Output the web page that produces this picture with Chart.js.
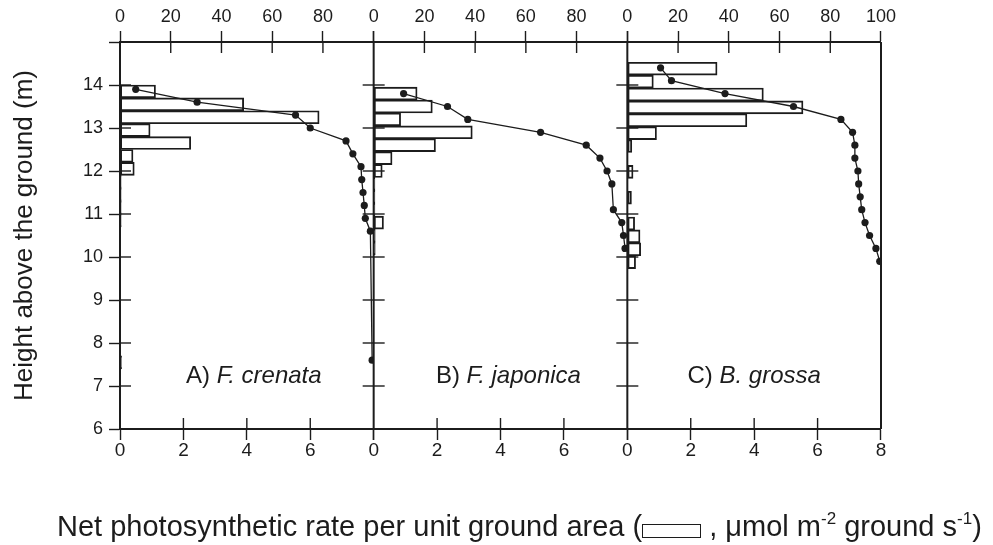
<!DOCTYPE html>
<html>
<head>
<meta charset="utf-8">
<script src="https://cdn.jsdelivr.net/npm/chart.js@4.4.1/dist/chart.umd.min.js"></script>
<style>
  html, body { margin: 0; padding: 0; background: #fff; }
  #wrap { position: relative; width: 993px; height: 545px; }
  #xtitle {
    position: absolute; left: 57px; top: 512px;
    font: 29px/29px "Liberation Sans", Arial, sans-serif;
    color: #1c1c1c; white-space: nowrap;
  }
  #xtitle sup { font-size: 17px; line-height: 0; vertical-align: 12px; }
  .swatch {
    display: inline-block; width: 57px; height: 12px;
    border: 1.5px solid #1c1c1c; vertical-align: -2px;
  }
</style>
</head>
<body>
<div id="wrap">
  <canvas id="chart" width="993" height="545"></canvas>
  <div id="xtitle">Net photosynthetic rate per unit ground area (<span class="swatch"></span> , μmol m<sup>-2</sup> ground s<sup>-1</sup>)</div>
</div>
<script>
const INK = "#1c1c1c";

// panel names
const panelPrefix = ["A) ", "B) ", "C) "];
const panelSpecies = ["F. crenata", "F. japonica", "B. grossa"];

// leaf layers (centre height, m) and net photosynthetic rate per layer
const layerHeightsA = [13.85, 13.55, 13.25, 12.95, 12.65, 12.35, 12.05, 11.75, 11.45, 11.15, 10.85, 7.55];
const rateA = [1.12, 3.9, 6.28, 0.95, 2.23, 0.41, 0.45, 0.04, 0.04, 0.04, 0.04, 0.05];
const layerHeightsB = [13.8, 13.5, 13.2, 12.9, 12.6, 12.3, 12.0, 11.7, 11.4, 11.1, 10.8, 10.5, 10.2];
const rateB = [1.37, 1.85, 0.85, 3.11, 1.95, 0.58, 0.27, 0.04, 0.04, 0.04, 0.31, 0.05, 0.05];
const layerHeightsC = [14.38, 14.08, 13.78, 13.48, 13.18, 12.88, 12.58, 11.98, 11.38, 10.78, 10.48, 10.18, 9.88];
const rateC = [2.83, 0.82, 4.29, 5.54, 3.77, 0.92, 0.14, 0.18, 0.13, 0.23, 0.4, 0.42, 0.26];

// light profile (top axis, %)
const lightHeightsA = [13.9, 13.6, 13.3, 13.0, 12.7, 12.4, 12.1, 11.8, 11.5, 11.2, 10.9, 10.6, 7.6];
const lightA = [6.2, 30.4, 69.2, 75.0, 89.1, 91.8, 95.0, 95.3, 95.8, 96.3, 96.7, 98.7, 99.4];
const lightHeightsB = [13.8, 13.5, 13.2, 12.9, 12.6, 12.3, 12.0, 11.7, 11.1, 10.8, 10.5, 10.2];
const lightB = [11.8, 29.1, 37.1, 65.8, 83.8, 89.2, 92.0, 93.9, 94.5, 97.8, 98.5, 99.1];
const lightHeightsC = [14.4, 14.1, 13.8, 13.5, 13.2, 12.9, 12.6, 12.3, 12.0, 11.7, 11.4, 11.1, 10.8, 10.5, 10.2, 9.9];
const lightC = [13.1, 17.4, 38.5, 65.5, 84.2, 88.8, 89.7, 89.7, 90.9, 91.2, 91.8, 92.4, 93.7, 95.5, 98.0, 99.5];

// axis ranges / ticks
const heightRange = [6, 15];
const rateRange = [0, 8];
const lightRange = [0, 100];
const rateStep = 2;
const lightStep = 20;

// where the panel captions sit (rate axis value, height)
const captionAt = [[4.22, 7.22], [4.25, 7.22], [4.0, 7.22]];

const ids = ["A", "B", "C"];
const layerHeights = [layerHeightsA, layerHeightsB, layerHeightsC];
const rates = [rateA, rateB, rateC];
const lightHeights = [lightHeightsA, lightHeightsB, lightHeightsC];
const lights = [lightA, lightB, lightC];

const numFont = { family: "'Liberation Sans', Arial, sans-serif", size: 18 };
const narrowFont = { family: "'Liberation Sans Narrow', 'Arial Narrow', 'Liberation Sans', sans-serif", size: 19, lineHeight: 1 };

const datasets = [];
ids.forEach((id, p) => {
  datasets.push({
    type: "bar",
    indexAxis: "y",
    grouped: false,
    xAxisID: "x" + id,
    yAxisID: "y" + id,
    data: layerHeights[p].map((h, i) => ({ x: rates[p][i], y: h })),
    backgroundColor: "rgba(0,0,0,0)",
    borderColor: INK,
    borderWidth: 1.2,
    borderSkipped: false,
    barPercentage: 1,
    categoryPercentage: 1,
  });
  datasets.push({
    type: "line",
    xAxisID: "t" + id,
    yAxisID: "y" + id,
    data: lightHeights[p].map((h, i) => ({ x: lights[p][i], y: h })),
    borderColor: INK,
    borderWidth: 1.3,
    pointRadius: 3.6,
    pointBackgroundColor: INK,
    pointBorderWidth: 0,
    tension: 0,
    fill: false,
  });
});

const tickGrid = { drawOnChartArea: false, offset: false, tickLength: 11, tickColor: INK, tickWidth: 1.4 };
const axisBorder = { color: INK, width: 2 };

const scales = {};
ids.forEach((id, p) => {
  const last = p === ids.length - 1;
  scales["x" + id] = {
    type: "linear", axis: "x", position: "bottom", stack: "bottom", stackWeight: 1,
    weight: p + 1, offset: false,
    min: rateRange[0], max: rateRange[1],
    ticks: {
      stepSize: rateStep, color: INK, font: narrowFont, padding: 1, maxRotation: 0, autoSkip: false,
      callback: (v) => (v === rateRange[1] && !last ? "" : String(v)),
    },
    grid: tickGrid,
    border: axisBorder,
    afterFit: (s) => { s.height = 116; },
  };
  // top boxes are laid out in reverse weight order
  scales["t" + id] = {
    type: "linear", axis: "x", position: "top", stack: "top", stackWeight: 1,
    weight: ids.length - p, offset: false,
    min: lightRange[0], max: lightRange[1],
    ticks: {
      stepSize: lightStep, color: INK, font: numFont, padding: 3, maxRotation: 0, autoSkip: false,
      callback: (v) => (v === lightRange[1] && !last ? "" : String(v)),
    },
    grid: tickGrid,
    border: axisBorder,
    afterFit: (s) => { s.height = 42; },
  };
  scales["y" + id] = {
    type: "linear", axis: "y", position: "left",
    display: p === 0, offset: false,
    min: heightRange[0], max: heightRange[1],
    ticks: {
      stepSize: 1, color: INK, font: numFont, padding: 6,
      callback: (v) => (v === heightRange[1] ? "" : String(v)),
    },
    grid: tickGrid,
    border: axisBorder,
    title: {
      display: p === 0, text: "Height above the ground (m)", color: INK,
      font: { family: "'Liberation Sans', Arial, sans-serif", size: 26 },
      padding: { top: 9, bottom: 0 },
    },
    afterFit: (s) => { s.width = p === 0 ? 120 : 0; },
  };
});

// panel separators, inward tick marks and the panel captions
const panelFrame = {
  id: "panelFrame",
  afterDraw(chart) {
    const { ctx, chartArea: a, scales: s } = chart;
    const yS = s.yA;
    ctx.save();
    ctx.strokeStyle = INK;

    ctx.lineWidth = 2;
    [s.xB.left, s.xC.left, s.xC.right].forEach((x) => {
      ctx.beginPath();
      ctx.moveTo(x, a.top);
      ctx.lineTo(x, a.bottom);
      ctx.stroke();
    });

    ctx.lineWidth = 1.4;
    ids.forEach((id, p) => {
      const x0 = s["x" + id].left;
      for (let h = heightRange[0] + 1; h < heightRange[1]; h++) {
        const y = yS.getPixelForValue(h);
        ctx.beginPath();
        ctx.moveTo(p === 0 ? x0 : x0 - 11, y);
        ctx.lineTo(x0 + 11, y);
        ctx.stroke();
      }
      for (let v = rateRange[0] + rateStep; v < rateRange[1]; v += rateStep) {
        const x = s["x" + id].getPixelForValue(v);
        ctx.beginPath();
        ctx.moveTo(x, a.bottom);
        ctx.lineTo(x, a.bottom - 11);
        ctx.stroke();
      }
      for (let v = lightRange[0] + lightStep; v < lightRange[1]; v += lightStep) {
        const x = s["t" + id].getPixelForValue(v);
        ctx.beginPath();
        ctx.moveTo(x, a.top);
        ctx.lineTo(x, a.top + 11);
        ctx.stroke();
      }
    });

    ctx.fillStyle = INK;
    ctx.textBaseline = "middle";
    ctx.textAlign = "left";
    const reg = "24px 'Liberation Sans', Arial, sans-serif";
    const ital = "italic 24px 'Liberation Sans', Arial, sans-serif";
    ids.forEach((id, p) => {
      const cx = s["x" + id].getPixelForValue(captionAt[p][0]);
      const cy = yS.getPixelForValue(captionAt[p][1]);
      ctx.font = reg;
      const w1 = ctx.measureText(panelPrefix[p]).width;
      ctx.font = ital;
      const w2 = ctx.measureText(panelSpecies[p]).width;
      const x = cx - (w1 + w2) / 2;
      ctx.font = reg;
      ctx.fillText(panelPrefix[p], x, cy);
      ctx.font = ital;
      ctx.fillText(panelSpecies[p], x + w1, cy);
    });
    ctx.restore();
  },
};

new Chart(document.getElementById("chart"), {
  type: "bar",
  data: { datasets },
  options: {
    responsive: false,
    animation: false,
    devicePixelRatio: 1,
    layout: { padding: { left: 0, right: 112, top: 0, bottom: 0 } },
    plugins: { legend: { display: false }, tooltip: { enabled: false } },
    scales,
  },
  plugins: [panelFrame],
});
</script>
</body>
</html>
